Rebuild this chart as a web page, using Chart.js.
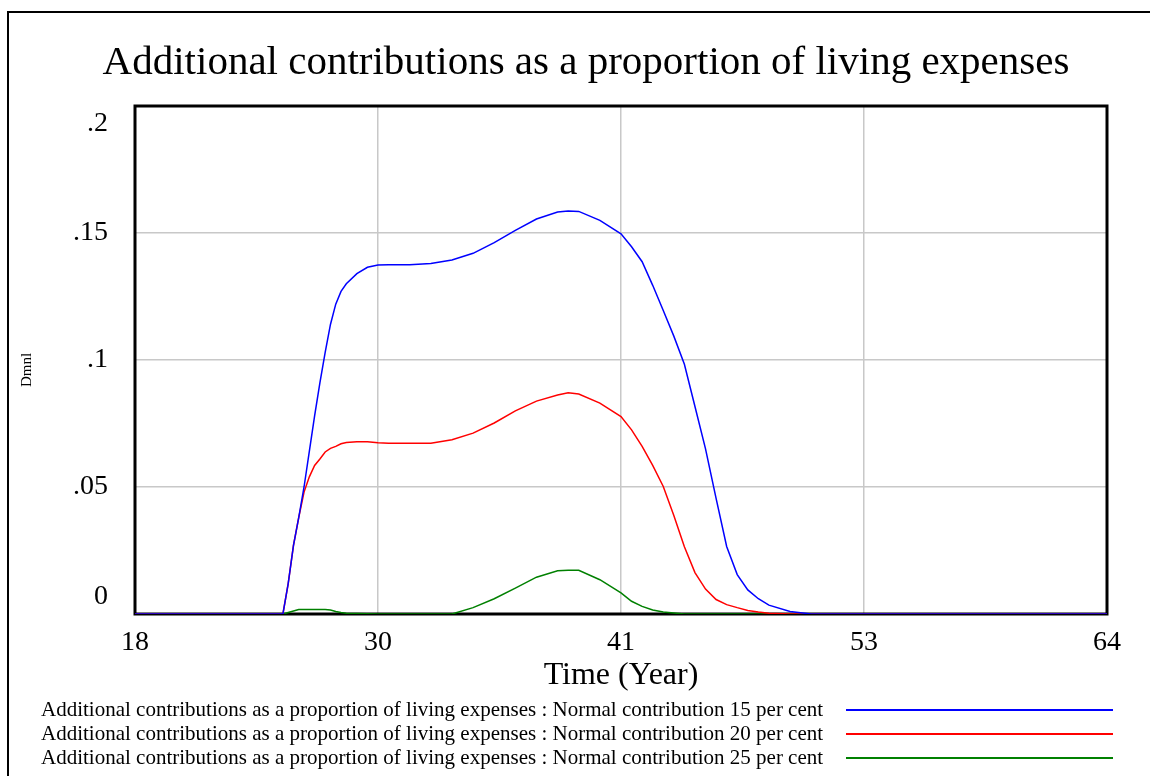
<!DOCTYPE html>
<html>
<head>
<meta charset="utf-8">
<title>Additional contributions as a proportion of living expenses</title>
<script src="https://cdn.jsdelivr.net/npm/chart.js@4.4.1/dist/chart.umd.min.js"></script>
<style>
  html, body { margin: 0; padding: 0; background: #fff; }
  #wrap { width: 1150px; height: 776px; }
</style>
</head>
<body>
<div id="wrap"><canvas id="chart" width="1150" height="776"></canvas></div>
<script>
// time axis (years) shared by all three runs
const years = [18, 25, 25.25, 25.5, 25.75, 26, 26.25, 26.5, 26.75, 27, 27.25, 27.5, 27.75, 28, 28.5, 29, 29.5,
    30, 31, 32, 33, 34, 35, 36, 37, 38, 38.5, 39, 40, 41, 41.5, 42, 42.5, 43, 43.5, 44, 44.5, 45, 45.5,
    46, 46.5, 47, 47.5, 48, 49, 50, 64];

// values (Dmnl)
const normal15 = [0, 0, 0.012, 0.027, 0.038, 0.050, 0.064, 0.078, 0.091, 0.103, 0.114, 0.122, 0.127, 0.130, 0.134, 0.1365, 0.1374,
    0.1375, 0.1375, 0.138, 0.1394, 0.142, 0.1462, 0.151, 0.1555, 0.1583, 0.1587, 0.1585, 0.155, 0.1497, 0.1446, 0.1387, 0.1294, 0.1195, 0.1094, 0.0983, 0.0817, 0.065, 0.0455,
    0.0266, 0.0155, 0.0095, 0.006, 0.0035, 0.001, 0, 0];
const normal20 = [0, 0, 0.012, 0.027, 0.038, 0.048, 0.054, 0.0585, 0.061, 0.0638, 0.0652, 0.066, 0.067, 0.0675, 0.0678, 0.0678, 0.0674,
    0.0672, 0.0672, 0.0672, 0.0686, 0.0712, 0.0752, 0.080, 0.0838, 0.0862, 0.0871, 0.0866, 0.083, 0.0777, 0.0725, 0.066, 0.0585, 0.0502, 0.0388, 0.0265, 0.0163, 0.0098, 0.0057,
    0.0037, 0.0025, 0.0014, 0.0008, 0.0003, 0, 0, 0];
const normal25 = [0, 0, 0.0006, 0.0012, 0.0018, 0.0018, 0.0018, 0.0018, 0.0018, 0.0018, 0.0016, 0.001, 0.0006, 0.0003, 0.0002, 0.0001, 0,
    0, 0, 0, 0, 0.0025, 0.006, 0.0102, 0.0145, 0.017, 0.0172, 0.0172, 0.0135, 0.0083, 0.005, 0.003, 0.0016, 0.0008, 0.0004, 0, 0, 0, 0,
    0, 0, 0, 0, 0, 0, 0, 0];

const variableName = 'Additional contributions as a proportion of living expenses';
const runNames = ['Normal contribution 15 per cent', 'Normal contribution 20 per cent', 'Normal contribution 25 per cent'];
const lineColors = ['#0000ff', '#ff0000', '#008000'];

const xTicks = [18, 29.5, 41, 52.5, 64];
const xTickLabels = ['18', '30', '41', '53', '64'];
const yTicks = [0, 0.05, 0.1, 0.15, 0.2];
const yTickLabels = ['0', '.05', '.1', '.15', '.2'];

const serif = '"Liberation Serif", "Times New Roman", serif';

function toPoints(values) {
    return years.map((t, i) => ({ x: t, y: values[i] }));
}

// frame, title, y labels and the Vensim style legend
const decorations = {
    id: 'decorations',
    beforeDatasetsDraw(chart) {
        const a = chart.chartArea;
        const ctx = chart.ctx;
        ctx.save();
        ctx.strokeStyle = '#000';
        ctx.lineWidth = 3;
        ctx.strokeRect(a.left, a.top, a.right - a.left, a.bottom - a.top);
        ctx.restore();
    },
    afterDraw(chart) {
        const a = chart.chartArea;
        const ctx = chart.ctx;
        const yScale = chart.scales.y;
        ctx.save();

        // outer frame (left and top edges only are visible)
        ctx.fillStyle = '#000';
        ctx.fillRect(7, 11, 2, 776);
        ctx.fillRect(7, 11, 1150, 2);

        // title
        ctx.fillStyle = '#000';
        ctx.textAlign = 'center';
        ctx.textBaseline = 'middle';
        ctx.font = '41px ' + serif;
        ctx.fillText(variableName, 586, 63);

        // y tick labels, pulled inside at the ends
        ctx.font = '28px ' + serif;
        ctx.textAlign = 'right';
        yTicks.forEach((v, i) => {
            let py = yScale.getPixelForValue(v);
            py = Math.min(Math.max(py, a.top + 18), a.bottom - 17);
            ctx.fillText(yTickLabels[i], 108, py);
        });

        // units label
        ctx.save();
        ctx.translate(27, 370);
        ctx.rotate(-Math.PI / 2);
        ctx.textAlign = 'center';
        ctx.font = '15px ' + serif;
        ctx.fillText('Dmnl', 0, 0);
        ctx.restore();

        // x axis title
        ctx.textAlign = 'center';
        ctx.font = '32px ' + serif;
        ctx.fillText('Time (Year)', (a.left + a.right) / 2, 676);

        // legend
        ctx.font = '21px ' + serif;
        ctx.textAlign = 'left';
        chart.data.datasets.forEach((ds, i) => {
            const ly = 710 + i * 24;
            ctx.fillStyle = '#000';
            ctx.fillText(ds.label, 41, ly);
            ctx.strokeStyle = ds.borderColor;
            ctx.lineWidth = 2;
            ctx.beginPath();
            ctx.moveTo(846, ly);
            ctx.lineTo(1113, ly);
            ctx.stroke();
        });
        ctx.restore();
    }
};

const datasets = [normal15, normal20, normal25].map((values, i) => ({
    label: variableName + ' : ' + runNames[i],
    data: toPoints(values),
    borderColor: lineColors[i],
    backgroundColor: lineColors[i],
    borderWidth: 1.5,
    pointRadius: 0,
    tension: 0,
    fill: false
}));

const chart = new Chart(document.getElementById('chart').getContext('2d'), {
    type: 'line',
    data: { datasets: datasets },
    options: {
        responsive: false,
        animation: false,
        layout: { padding: { left: 0, top: 106, right: 43, bottom: 0 } },
        plugins: {
            legend: { display: false },
            title: { display: false },
            tooltip: { enabled: false }
        },
        scales: {
            x: {
                type: 'linear',
                min: 18,
                max: 64,
                afterBuildTicks: (scale) => {
                    scale.ticks = xTicks.map(v => ({ value: v }));
                },
                afterFit: (scale) => { scale.height = 162; },
                grid: { color: '#c8c8c8', lineWidth: 1.5, drawTicks: false },
                border: { display: false },
                ticks: {
                    autoSkip: false,
                    maxRotation: 0,
                    padding: 12,
                    color: '#000',
                    font: { family: serif, size: 28 },
                    callback: (value, index) => xTickLabels[index]
                }
            },
            y: {
                min: 0,
                max: 0.2,
                afterBuildTicks: (scale) => {
                    scale.ticks = yTicks.map(v => ({ value: v }));
                },
                afterFit: (scale) => { scale.width = 135; },
                grid: { color: '#c8c8c8', lineWidth: 1.5, drawTicks: false },
                border: { display: false },
                ticks: { display: false }
            }
        }
    },
    plugins: [decorations]
});
</script>
</body>
</html>
